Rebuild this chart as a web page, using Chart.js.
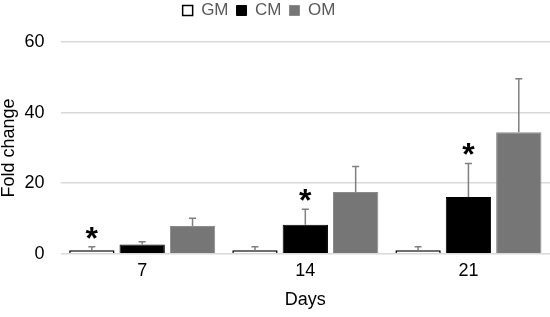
<!DOCTYPE html>
<html>
<head>
<meta charset="utf-8">
<script src="https://cdn.jsdelivr.net/npm/chart.js@4"></script>
<style>
  html, body { margin: 0; padding: 0; background: #fff; }
  #wrap { width: 550px; height: 317px; }
</style>
</head>
<body>
<div id="wrap"><canvas id="chart"></canvas></div>
<script>
const DAYS = ['7', '14', '21'];
const SERIES = ['GM', 'CM', 'OM'];
const GM = [1.0, 1.0, 1.0];
const CM = [2.6, 8.2, 16.1];
const OM = [7.9, 17.5, 34.4];
// upper error (SD)
const GM_ERR = [1.0, 1.0, 1.0];
const CM_ERR = [0.8, 4.4, 9.5];
const OM_ERR = [2.2, 7.2, 15.2];
// significance marks
const GM_STAR = [true, false, false];
const CM_STAR = [false, true, true];
const OM_STAR = [false, false, false];
const Y_TICKS = [0, 20, 40, 60];

const FONT = '"Liberation Sans", Arial, sans-serif';

// error bars + asterisks, placed with the chart's own scales
const errorBars = {
  id: 'errorBars',
  afterDatasetsDraw(chart) {
    const ctx = chart.ctx;
    const y = chart.scales.y;
    chart.data.datasets.forEach((ds, di) => {
      const meta = chart.getDatasetMeta(di);
      meta.data.forEach((bar, i) => {
        const top = y.getPixelForValue(ds.data[i] + ds.errors[i]);
        ctx.save();
        ctx.strokeStyle = '#7f7f7f';
        ctx.lineWidth = 1.5;
        ctx.beginPath();
        ctx.moveTo(bar.x, bar.y);
        ctx.lineTo(bar.x, top);
        ctx.moveTo(bar.x - 3.5, top);
        ctx.lineTo(bar.x + 3.5, top);
        ctx.stroke();
        if (ds.stars[i]) {
          ctx.fillStyle = '#000';
          ctx.font = 'bold 32px ' + FONT;
          ctx.textAlign = 'center';
          ctx.textBaseline = 'alphabetic';
          ctx.fillText('*', bar.x, top + 2);
        }
        ctx.restore();
      });
    });
  }
};

// legend sits a bit left of centre and higher, with room under it
const legendGap = {
  id: 'legendGap',
  beforeInit(chart) {
    const lg = chart.legend;
    const fit = lg.fit;
    lg.fit = function () {
      fit.bind(lg)();
      this.height += 7;
    };
    const draw = lg.draw;
    lg.draw = function () {
      const ctx = chart.ctx;
      ctx.save();
      ctx.translate(-15, -6);
      draw.bind(lg)();
      ctx.restore();
    };
  }
};

new Chart(document.getElementById('chart'), {
  type: 'bar',
  data: {
    labels: DAYS,
    datasets: [
      { label: SERIES[0], data: GM, errors: GM_ERR, stars: GM_STAR,
        backgroundColor: '#ffffff', borderColor: '#000000', borderWidth: 1.5 },
      { label: SERIES[1], data: CM, errors: CM_ERR, stars: CM_STAR,
        backgroundColor: '#000000', borderColor: '#000000', borderWidth: 1 },
      { label: SERIES[2], data: OM, errors: OM_ERR, stars: OM_STAR,
        backgroundColor: '#767676', borderColor: '#8a8a8a', borderWidth: 1 }
    ]
  },
  options: {
    responsive: true,
    maintainAspectRatio: false,
    animation: false,
    devicePixelRatio: 1,
    categoryPercentage: 0.926,
    barPercentage: 0.9,
    layout: { padding: { left: -2, right: 0, top: 0, bottom: 0 } },
    plugins: {
      legend: {
        position: 'top',
        labels: {
          boxWidth: 10,
          boxHeight: 10,
          padding: 8,
          color: '#595959',
          font: { family: FONT, size: 17 }
        }
      },
      tooltip: { enabled: false }
    },
    scales: {
      x: {
        grid: { display: false, drawTicks: false },
        border: { display: false },
        ticks: { color: '#000', font: { family: FONT, size: 18 }, padding: 6 },
        title: { display: true, text: 'Days', color: '#000', font: { family: FONT, size: 18 }, padding: { top: 2, bottom: 6 } }
      },
      y: {
        min: 0,
        max: 60,
        afterBuildTicks: (axis) => { axis.ticks = Y_TICKS.map(v => ({ value: v })); },
        grid: { color: '#d9d9d9', lineWidth: 1.5, drawTicks: false },
        border: { display: false },
        ticks: { color: '#000', font: { family: FONT, size: 18 }, padding: 16 },
        title: { display: true, text: 'Fold change', color: '#000', font: { family: FONT, size: 18 }, padding: { top: 0, bottom: -11 } }
      }
    }
  },
  plugins: [errorBars, legendGap]
});
</script>
</body>
</html>
